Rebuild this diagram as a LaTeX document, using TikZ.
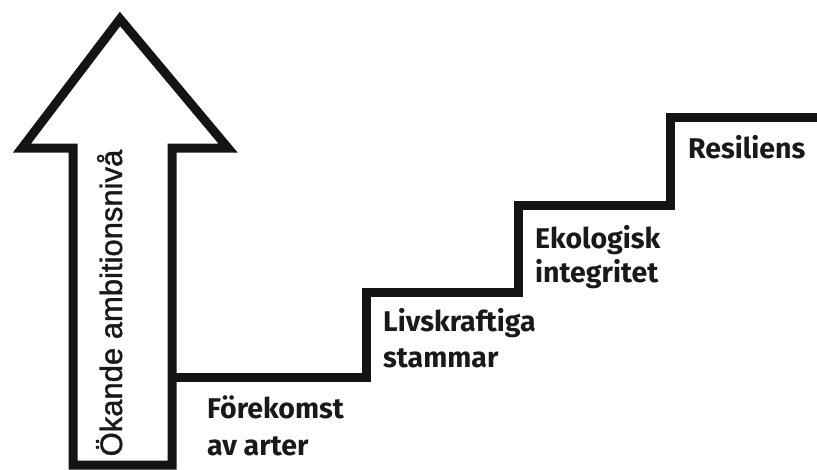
\documentclass[tikz,border=0pt]{standalone}
\usepackage{fontspec}
\setmainfont{Fira Sans}
\newfontfamily\arrowfont[FakeBold=1.2]{Liberation Sans}
\begin{document}
\begin{tikzpicture}[x=1pt,y=-1pt,
  outline/.style={draw=black!92,line width=9pt,line join=miter},
  steplabel/.style={anchor=base west,inner sep=0pt,font=\fontsize{28.5}{32}\selectfont\bfseries,text=black!90},
  arrowlabel/.style={anchor=base,inner sep=0pt,rotate=90,font=\arrowfont\fontsize{31}{36}\selectfont,text=black!90}]
\useasboundingbox (0,0) rectangle (817,469);
% arrow outline
\coordinate (sbl) at (73,465);
\coordinate (sbr) at (172,465);
\coordinate (hl) at (22,148);
\coordinate (hr) at (228,148);
\coordinate (tip) at (120,19);
\draw[outline] (sbl) -- (73,148) -- (hl) -- (tip) -- (hr) -- (172,148) -- (sbr) -- cycle;
% stairs
\coordinate (s0) at (172,377);
\coordinate (s1) at (366,377);
\coordinate (s2) at (366,292);
\coordinate (s3) at (518,292);
\coordinate (s4) at (518,205);
\coordinate (s5) at (670,205);
\coordinate (s6) at (670,117);
\coordinate (s7) at (825,117);
\draw[outline] (s0) -- (s1) -- (s2) -- (s3) -- (s4) -- (s5) -- (s6) -- (s7);
% labels
\node[arrowlabel] (amb) at (122,303) {Ökande ambitionsnivå};
\node[steplabel] (l1a) at (207,418) {Förekomst};
\node[steplabel] (l1b) at (207,455) {av arter};
\node[steplabel] (l2a) at (383,331) {Livskraftiga};
\node[steplabel] (l2b) at (383,367) {stammar};
\node[steplabel] (l3a) at (535,248) {Ekologisk};
\node[steplabel] (l3b) at (535,282) {integritet};
\node[steplabel] (l4) at (688,158) {Resiliens};
\end{tikzpicture}
\end{document}
